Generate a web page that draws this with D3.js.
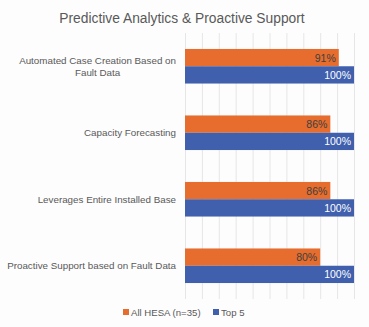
<!DOCTYPE html>
<html><head><meta charset="utf-8">
<script src="https://cdn.jsdelivr.net/npm/d3@7"></script>
<style>html,body{margin:0;padding:0;background:#fdfdfd;}svg{display:block;font-family:"Liberation Sans",Arial,sans-serif;}</style>
</head><body>
<svg id="c" width="369" height="327"></svg>
<script>
const title = "Predictive Analytics & Proactive Support";
const categories = [
  ["Automated Case Creation Based on", "Fault Data"],
  ["Capacity Forecasting"],
  ["Leverages Entire Installed Base"],
  ["Proactive Support based on Fault Data"]
];
const seriesNames = ["All HESA (n=35)", "Top 5"];
const allHesa = [91, 86, 86, 80];
const top5 = [100, 100, 100, 100];
const colors = ["#E66D2E", "#4060AE"];
const gridTicks = [0,10,20,30,40,50,60,70,80,90,100];

(function(){
const svg = d3.select("#c");
const pL = 185, pR = 354, pT = 33, pB = 299;
const x = d3.scaleLinear().domain([0,100]).range([pL,pR]);
const y = d3.scaleBand().domain(d3.range(categories.length)).range([pT,pB]).paddingInner(0.48).paddingOuter(0.24);
const sub = d3.scaleBand().domain([0,1]).range([0,y.bandwidth()]);

svg.append("text").attr("x",182).attr("y",23).attr("text-anchor","middle")
  .attr("font-size",13.8).attr("fill","#595959").text(title);

svg.append("g").selectAll("line").data(gridTicks).join("line")
  .attr("x1",d=>x(d)+0.5).attr("x2",d=>x(d)+0.5).attr("y1",pT).attr("y2",pB)
  .attr("stroke","#e6e6e6").attr("stroke-width",1);

const series = [allHesa, top5];
series.forEach((vals,si)=>{
  const g = svg.append("g");
  g.selectAll("rect").data(vals).join("rect")
    .attr("x",x(0)).attr("y",(d,i)=>y(i)+sub(si))
    .attr("width",d=>x(d)-x(0)).attr("height",sub.bandwidth())
    .attr("fill",colors[si]);
  g.selectAll("text").data(vals).join("text")
    .attr("x",d=>x(d)-3).attr("y",(d,i)=>y(i)+sub(si)+sub.bandwidth()/2+4)
    .attr("text-anchor","end").attr("font-size",10.5)
    .attr("fill",si===0?"#404040":"#ffffff").text(d=>d+"%");
});

const lab = svg.append("g");
categories.forEach((lines,i)=>{
  const cy = y(i)+y.bandwidth()/2;
  const n = lines.length, lh = 12;
  const texts = lines.map((t,j)=>lab.append("text").attr("x",176)
      .attr("y",cy + (j-(n-1)/2)*lh + 3.5)
      .attr("text-anchor","end")
      .attr("font-size",9.8).attr("fill","#595959").text(t));
  if(n>1){
    const w0 = texts[0].node().getComputedTextLength();
    texts.slice(1).forEach(t=>t.attr("text-anchor","middle").attr("x",176-w0/2));
  }
});

const leg = svg.append("g");
const legX = [123, 213];
seriesNames.forEach((s,i)=>{
  leg.append("rect").attr("x",legX[i]).attr("y",309).attr("width",6).attr("height",6).attr("fill",colors[i]);
  leg.append("text").attr("x",legX[i]+8).attr("y",316).attr("font-size",9.6).attr("fill","#595959").text(s);
});
})();
</script>
</body></html>
